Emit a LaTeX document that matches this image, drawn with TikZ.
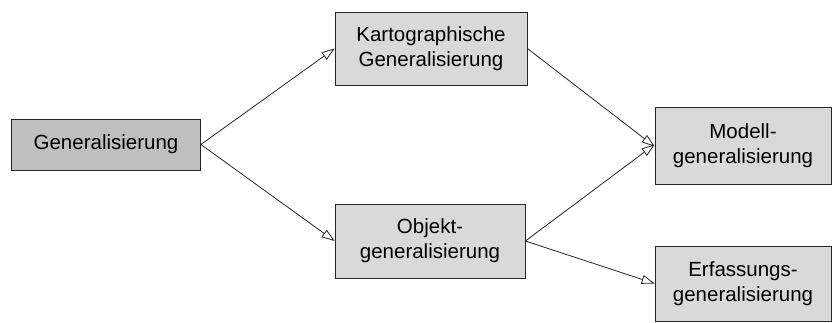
\documentclass[tikz,border=0pt]{standalone}
\usepackage{fontspec}
\setmainfont{Liberation Sans}
\usetikzlibrary{arrows.meta}
\begin{document}
\begin{tikzpicture}[x=1pt,y=-1pt,
  box/.style={draw=black!85, line width=0.8pt, fill=#1, minimum height=74pt,
    inner sep=0pt, align=center, font=\fontsize{20.5}{25}\selectfont},
  link/.style={draw=black!85, line width=0.8pt,
    -{Triangle[open,length=13pt,width=9pt]}}]
\useasboundingbox (0,0) rectangle (832,322);
\node[box=black!25, minimum width=189pt, minimum height=51pt] (gen) at (106,144.5) {Generalisierung};
\node[box=black!15, minimum width=192pt, minimum height=73pt] (karto) at (431,48.5) {Kartographische\\Generalisierung};
\node[box=black!15, minimum width=190pt] (objekt) at (430,241) {Objekt-\\generalisierung};
\node[box=black!15, minimum width=176pt, minimum height=77pt] (modell) at (743,145.5) {Modell-\\generalisierung};
\node[box=black!15, minimum width=176pt, minimum height=75pt] (erfass) at (743,283.5) {Erfassungs-\\generalisierung};
\draw[link] (gen.east) -- (karto.west);
\draw[link] (gen.east) -- (objekt.west);
\draw[link] (karto.east) -- ([yshift=-1pt]modell.west);
\draw[link] (objekt.east) -- ([yshift=1pt]modell.west);
\draw[link] (objekt.east) -- (erfass.west);
\end{tikzpicture}
\end{document}
